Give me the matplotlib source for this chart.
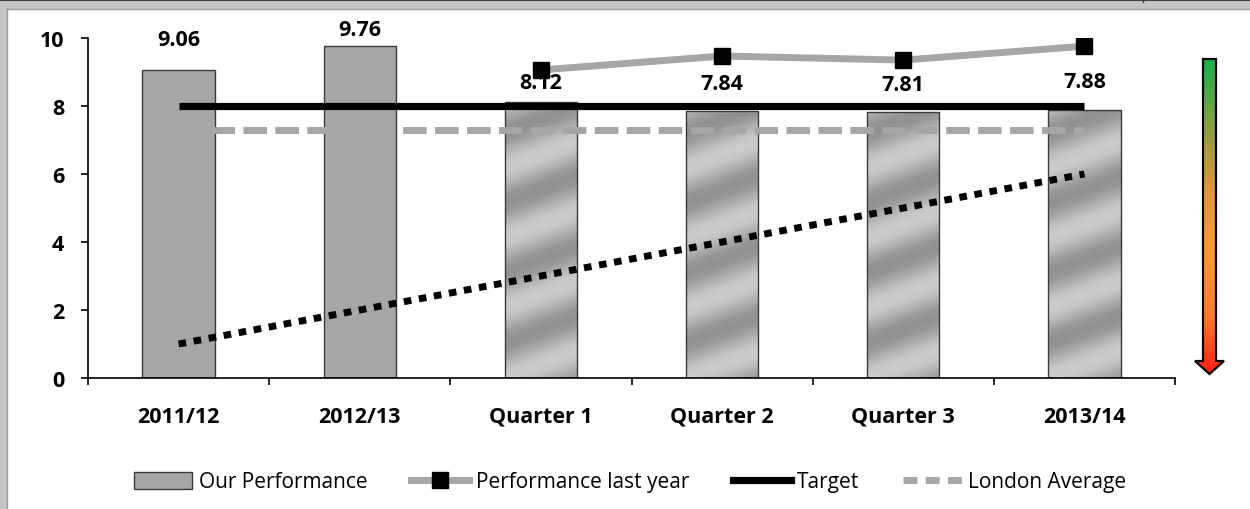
import matplotlib
matplotlib.use("Agg")
import matplotlib.pyplot as plt
import numpy as np
from matplotlib.colors import LinearSegmentedColormap
from matplotlib.lines import Line2D
from matplotlib.patches import Patch, Polygon, Rectangle

plt.rcParams["font.family"] = ["Open Sans", "DejaVu Sans"]

CATEGORIES = ["2011/12", "2012/13", "Quarter 1", "Quarter 2", "Quarter 3", "2013/14"]
OUR_PERFORMANCE = [9.06, 9.76, 8.12, 7.84, 7.81, 7.88]
LAST_YEAR = [None, None, 9.06, 9.47, 9.35, 9.76]
TARGET = [8, 8, 8, 8, 8, 8]
LONDON_AVERAGE = [7.3, 7.3, 7.3, 7.3, 7.3, 7.3]
TREND = [1, 2, 3, 4, 5, 6]
METALLIC = [False, False, True, True, True, True]
# vertical gap (px) between bar top and its value label
LABEL_GAP_PX = [30, 17, 19, 28, 28, 29]

BAR_GREY = "#a6a6a6"
LINE_GREY = "#a6a6a6"
EDGE = "#3a3a3a"
BAR_WIDTH = 0.4
FS = 15.5

W, H = 1250, 510


def metallic_fill(ax, x0, width, height, px_x, px_y):
    """Diagonal brushed-steel shading clipped to a bar."""
    nx, ny = 80, 400
    xs = np.linspace(0, width * px_x, nx)
    ys = np.linspace(height * px_y, 0, ny)
    xx, yy = np.meshgrid(xs, ys)
    phase = (yy - 0.37 * xx) / 70.0
    val = 0.5 + 0.5 * np.cos(2 * np.pi * phase)
    shade = 0.57 + 0.23 * val
    rgb = np.dstack([shade, shade, shade])
    im = ax.imshow(rgb, extent=(x0, x0 + width, 0, height), aspect="auto",
                   interpolation="bilinear", zorder=2)
    rect = Rectangle((x0, 0), width, height, facecolor="none",
                     edgecolor=EDGE, linewidth=1.0, zorder=2.1)
    ax.add_patch(rect)
    im.set_clip_path(rect)


def draw_frame(fig):
    # light grey border along the top and left edges
    fig.patches.append(Rectangle((0, 1 - 10 / H), 1, 10 / H, transform=fig.transFigure,
                                 facecolor="#c4c4c4", edgecolor="none", zorder=0))
    fig.patches.append(Rectangle((0, 0), 7 / W, 1, transform=fig.transFigure,
                                 facecolor="#c4c4c4", edgecolor="none", zorder=0))
    fig.add_artist(Line2D([0, 1], [1 - 1 / H, 1 - 1 / H], transform=fig.transFigure,
                          color="#404040", lw=1.5))
    fig.add_artist(Line2D([7 / W, 1], [1 - 10 / H, 1 - 10 / H], transform=fig.transFigure,
                          color="#9a9a9a", lw=1))
    fig.add_artist(Line2D([7 / W, 7 / W], [0, 1 - 10 / H], transform=fig.transFigure,
                          color="#9a9a9a", lw=1))
    fig.add_artist(Line2D([1143 / W, 1143 / W], [1 - 3 / H, 1], transform=fig.transFigure,
                          color="#404040", lw=1))


def draw_arrow(fig):
    left, right, top, bottom = 1188, 1232, 55, 382
    ax = fig.add_axes([left / W, 1 - bottom / H, (right - left) / W, (bottom - top) / H])
    ax.set_xlim(left, right)
    ax.set_ylim(bottom, top)
    ax.axis("off")
    pts = [(1203, 60), (1216, 60), (1216, 362), (1224, 362), (1209.5, 375),
           (1195, 362), (1203, 362)]
    cmap = LinearSegmentedColormap.from_list(
        "perf", [(0.0, "#18b050"), (0.22, "#8a9d42"), (0.42, "#e2963a"),
                 (0.6, "#f99a35"), (0.82, "#fb7a2c"), (1.0, "#ff1e0e")])
    grad = np.linspace(0, 1, 256).reshape(-1, 1)
    im = ax.imshow(grad, cmap=cmap, extent=(left, right, 375, 60), aspect="auto",
                   interpolation="bilinear")
    poly = Polygon(pts, closed=True, facecolor="none", edgecolor="black", linewidth=1.6)
    ax.add_patch(poly)
    im.set_clip_path(poly)


fig = plt.figure(figsize=(W / 100, H / 100), dpi=100)
fig.patch.set_facecolor("white")
draw_frame(fig)

ax = fig.add_axes([88 / W, 1 - 379 / H, (1175 - 88) / W, (379 - 39) / H])
x = np.arange(len(CATEGORIES))
ax.set_xlim(-0.5, len(CATEGORIES) - 0.5)
ax.set_ylim(0, 10)
px_x = (1175 - 88) / len(CATEGORIES)
px_y = (379 - 39) / 10

for i, (val, metal) in enumerate(zip(OUR_PERFORMANCE, METALLIC)):
    x0 = x[i] - BAR_WIDTH / 2
    if metal:
        metallic_fill(ax, x0, BAR_WIDTH, val, px_x, px_y)
    else:
        ax.bar(x[i], val, width=BAR_WIDTH, color=BAR_GREY, edgecolor=EDGE,
               linewidth=1.0, zorder=2)
    ax.annotate(f"{val:.2f}", (x[i], val), xytext=(0, LABEL_GAP_PX[i] * 0.72),
                textcoords="offset points", ha="center", va="center",
                fontsize=FS, fontweight="bold", zorder=6, annotation_clip=False)

ax.plot(x, TREND, color="black", lw=5, dashes=(1.1, 1.1), dash_capstyle="butt", zorder=3)
ax.plot(x, LONDON_AVERAGE, color=LINE_GREY, lw=5, dashes=(3.4, 1.2), zorder=3)
ax.plot(x, TARGET, color="black", lw=5.2, solid_capstyle="butt", zorder=3.2)
ly = np.array([np.nan if v is None else v for v in LAST_YEAR], dtype=float)
ax.plot(x, ly, color=LINE_GREY, lw=5, marker="s", markersize=11,
        markerfacecolor="black", markeredgecolor="black", zorder=7)

for side in ("top", "right"):
    ax.spines[side].set_visible(False)
for side in ("left", "bottom"):
    ax.spines[side].set_linewidth(1.2)
    ax.spines[side].set_color("black")

ax.set_yticks(np.arange(0, 11, 2))
ax.tick_params(axis="y", direction="out", length=5, width=1.2, pad=12, labelsize=FS)
for lab in ax.get_yticklabels():
    lab.set_fontweight("bold")

ax.set_xticks(x)
ax.set_xticklabels(CATEGORIES, fontweight="bold", fontsize=FS)
ax.set_xticks(np.arange(-0.5, len(CATEGORIES), 1.0), minor=True)
ax.tick_params(axis="x", which="major", length=0, pad=20)
ax.tick_params(axis="x", which="minor", direction="out", length=5, width=1.2)

handles = [
    Patch(facecolor=BAR_GREY, edgecolor=EDGE, linewidth=1.0, label="Our Performance"),
    Line2D([0], [0], color=LINE_GREY, lw=5, marker="s", markersize=11,
           markerfacecolor="black", markeredgecolor="black", label="Performance last year"),
    Line2D([0], [0], color="black", lw=5.2, label="Target"),
    Line2D([0], [0], color=LINE_GREY, lw=5, dashes=(2.0, 1.2), label="London Average"),
]
fig.legend(handles=handles, loc="center", bbox_to_anchor=(630 / W, 1 - 483 / H),
           ncol=4, frameon=False, fontsize=15, handlelength=2.8, handleheight=0.85,
           handletextpad=0.3, columnspacing=2.1)

draw_arrow(fig)

fig.savefig("out.png", dpi=100, facecolor="white")
